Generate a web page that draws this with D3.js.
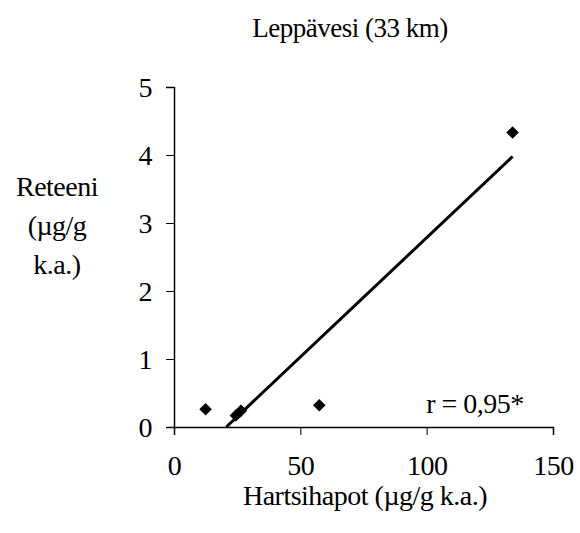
<!DOCTYPE html>
<html><head><meta charset="utf-8">
<script src="https://cdn.jsdelivr.net/npm/d3@7"></script>
<style>
body{margin:0;background:#fff;}
svg text{font-family:"Liberation Serif","Times New Roman","DejaVu Serif",serif;fill:#000;}
</style></head>
<body>
<svg id="c" width="580" height="533"></svg>
<script>
const xValues = [12.5, 24.5, 26.5, 57.5, 134];
const yValues = [0.26, 0.17, 0.24, 0.32, 4.33];
const xTicks = [0, 50, 100, 150];
const yTicks = [0, 1, 2, 3, 4, 5];
const titleText = "Leppävesi (33 km)";
const xTitle = "Hartsihapot (µg/g k.a.)";
const yTitleLines = ["Reteeni", "(µg/g", "k.a.)"];
const rLabel = "r = 0,95*";

const FF = "'Liberation Serif','Times New Roman','DejaVu Serif',serif";
const svg = d3.select("#c");
const x = d3.scaleLinear().domain([0,150]).range([174,553]);
const y = d3.scaleLinear().domain([0,5]).range([427,87]);

// axes
const xa = svg.append("g").attr("transform","translate(0,427)")
  .call(d3.axisBottom(x).tickValues(xTicks).tickSize(8).tickPadding(20).tickFormat(d3.format("d")));
const ya = svg.append("g").attr("transform","translate(174,0)")
  .call(d3.axisLeft(y).tickValues(yTicks).tickSize(8).tickPadding(14).tickFormat(d3.format("d")));
[xa,ya].forEach(g=>{
  g.attr("font-family",FF).attr("font-size",28);
  g.select(".domain").attr("stroke","#000").attr("stroke-width",1.5);
  g.selectAll(".tick line").attr("stroke","#000").attr("stroke-width",1);
  g.selectAll(".tick text").attr("font-family",FF).attr("font-size",28).attr("letter-spacing","-0.5");
});
ya.selectAll(".tick text").attr("dy","0.35em");

// regression from data
const mx = d3.mean(xValues), my = d3.mean(yValues);
const sxy = d3.sum(xValues.map((v,i)=>(v-mx)*(yValues[i]-my)));
const sxx = d3.sum(xValues.map(v=>(v-mx)*(v-mx)));
const slope = sxy/sxx, icpt = my - slope*mx;
const x0 = Math.max(d3.min(xValues), -icpt/slope), x1 = d3.max(xValues);
svg.append("line")
  .attr("x1",x(x0)).attr("y1",y(slope*x0+icpt))
  .attr("x2",x(x1)).attr("y2",y(slope*x1+icpt))
  .attr("stroke","#000").attr("stroke-width",3);

// points
const sym = d3.symbol().type(d3.symbolDiamond2).size(100);
svg.selectAll("path.pt").data(xValues).join("path").attr("class","pt")
  .attr("d",sym)
  .attr("transform",(d,i)=>`translate(${x(d)},${y(yValues[i])})`)
  .attr("fill","#000");

// texts
function txt(xp, yp, t, size){
  return svg.append("text").attr("x",xp).attr("y",yp).attr("text-anchor","middle")
    .attr("font-family",FF).attr("font-size",size).attr("letter-spacing","-0.5").text(t);
}
txt(350, 37, titleText, 27);
txt(365, 505, xTitle, 28);
yTitleLines.forEach((t,i)=> txt(57, 196+i*39, t, 28));
txt(475, 413, rLabel, 28);
</script>
</body></html>
